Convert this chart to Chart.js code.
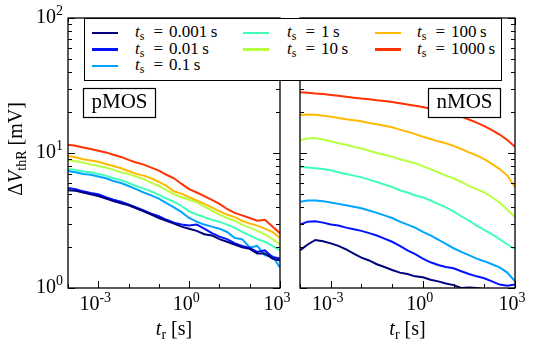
<!DOCTYPE html>
<html>
<head>
<meta charset="utf-8">
<script src="https://cdn.jsdelivr.net/npm/chart.js@4.4.1/dist/chart.umd.min.js"></script>
<style>
    body { margin: 0; background: #fff; }
    #wrap { position: relative; width: 537px; height: 353px; overflow: hidden; }
    canvas { position: absolute; top: 0; }
    #pmos { left: 0; }
    #nmos { left: 285px; }
    #legend {
        position: absolute; left: 84px; top: 18px; width: 418px; height: 63px;
        border: 1.3px solid #000; background: #fff; box-sizing: border-box;
    }
    .sw { position: absolute; width: 26px; height: 2.5px; }
    .lab {
        position: absolute; font-family: "Liberation Serif", "DejaVu Serif", serif;
        font-size: 17px; line-height: 17px; white-space: nowrap; color: #000;
    }
    .lab i { font-style: italic; }
    .lab sub { font-size: 12px; vertical-align: -3px; line-height: 0; }
    .lab .eq { margin: 0 6px 0 9px; }
</style>
</head>
<body>
<div id="wrap">
    <canvas id="pmos" width="295" height="353"></canvas>
    <canvas id="nmos" width="252" height="353"></canvas>
    <div id="legend"></div>
</div>
<script>
// recovery time t_r [s], one point every quarter decade
const tr = [1e-4, 1.78e-4, 3.16e-4, 5.62e-4, 1e-3, 1.78e-3, 3.16e-3, 5.62e-3, 1e-2, 1.78e-2, 3.16e-2, 5.62e-2,
    0.1, 0.178, 0.316, 0.562, 1, 1.78, 3.16, 5.62, 10, 17.8, 31.6, 56.2, 100, 178, 316, 562, 1000];

// stress times t_s [s]
const stressTimes = ["0.001", "0.01", "0.1", "1", "10", "100", "1000"];
const stressColors = ["#000080", "#0012ff", "#00a4ff", "#41ffb6", "#b6ff41", "#ffb900", "#ff3200"];

// pMOS, dVthR [mV]
const p0001 = [5.3, 5.25, 5.1, 4.95, 4.8, 4.6, 4.4, 4.25, 4.1, 3.9, 3.7, 3.5, 3.3, 3.15, 3.0, 2.85, 2.75, 2.65, 2.5, 2.45, 2.3, 2.2, 2.1, 2.0, 1.95, 1.8, 1.8, 1.65, 1.6];
const p001 = [5.5, 5.4, 5.2, 5.05, 4.95, 4.7, 4.5, 4.35, 4.15, 3.95, 3.75, 3.55, 3.4, 3.2, 3.05, 2.95, 2.9, 2.95, 2.75, 2.55, 2.4, 2.3, 2.15, 2.05, 1.98, 1.85, 1.9, 1.7, 1.65];
const p01 = [7.35, 7.2, 7.0, 6.9, 6.7, 6.5, 6.2, 6.0, 5.7, 5.4, 5.1, 4.85, 4.6, 4.25, 3.95, 3.65, 3.3, 3.1, 2.95, 2.85, 2.75, 2.6, 2.35, 2.3, 2.0, 2.05, 1.75, 1.72, 1.42];
const p1 = [7.6, 7.5, 7.3, 7.2, 7.0, 6.8, 6.5, 6.3, 6.0, 5.7, 5.45, 5.2, 4.9, 4.6, 4.35, 4.05, 3.7, 3.5, 3.35, 3.2, 3.1, 2.95, 2.8, 2.6, 2.45, 2.3, 2.2, 2.05, 1.9];
const p10 = [8.9, 8.7, 8.5, 8.2, 8.0, 7.8, 7.5, 7.2, 7.0, 6.7, 6.4, 6.0, 5.7, 5.3, 4.95, 4.7, 4.5, 4.3, 4.0, 3.75, 3.5, 3.3, 3.15, 2.95, 2.8, 2.65, 2.5, 2.3, 2.1];
const p100 = [9.5, 9.3, 9.0, 8.8, 8.6, 8.3, 8.0, 7.7, 7.35, 7.0, 6.8, 6.5, 6.1, 5.7, 5.2, 5.0, 4.7, 4.45, 4.2, 3.95, 3.7, 3.5, 3.35, 3.15, 3.0, 2.9, 2.75, 2.6, 2.35];
const p1000 = [11.5, 11.3, 11.0, 10.7, 10.4, 10.1, 9.7, 9.35, 8.9, 8.5, 8.2, 7.8, 7.4, 6.9, 6.5, 5.9, 5.4, 5.1, 4.8, 4.5, 4.2, 3.85, 3.6, 3.45, 3.3, 3.15, 3.2, 2.85, 2.55];

// nMOS, dVthR [mV]
const n0001 = [1.9, 2.1, 2.27, 2.22, 2.14, 2.05, 1.93, 1.8, 1.68, 1.6, 1.5, 1.43, 1.36, 1.3, 1.27, 1.22, 1.2, 1.15, 1.12, 1.08, 1.05, 1.0, 1.01, 1.0, 0.98, 0.95, 0.94, 0.93, 0.92];
const n001 = [2.95, 3.1, 3.12, 3.05, 2.95, 2.9, 2.8, 2.72, 2.65, 2.55, 2.45, 2.32, 2.2, 2.05, 1.9, 1.78, 1.65, 1.55, 1.48, 1.43, 1.4, 1.33, 1.27, 1.22, 1.18, 1.12, 1.06, 1.04, 1.06];
const n01 = [4.35, 4.45, 4.45, 4.4, 4.3, 4.2, 4.1, 4.0, 3.9, 3.75, 3.6, 3.45, 3.3, 3.1, 2.95, 2.8, 2.6, 2.45, 2.28, 2.12, 1.97, 1.85, 1.75, 1.65, 1.58, 1.5, 1.42, 1.3, 1.12];
const n1 = [7.9, 7.8, 7.7, 7.6, 7.45, 7.2, 7.0, 6.8, 6.6, 6.35, 6.1, 5.85, 5.6, 5.3, 5.1, 4.85, 4.7, 4.45, 4.2, 3.95, 3.7, 3.4, 3.15, 2.9, 2.7, 2.5, 2.3, 2.1, 1.95];
const n10 = [12.5, 12.8, 12.9, 12.6, 12.2, 11.8, 11.5, 11.1, 10.8, 10.4, 10.0, 9.7, 9.4, 9.0, 8.7, 8.4, 8.0, 7.6, 7.2, 6.8, 6.5, 6.1, 5.7, 5.4, 5.1, 4.7, 4.3, 3.8, 3.35];
const n100 = [19.1, 19.3, 19.2, 18.9, 18.6, 18.2, 17.8, 17.5, 17.2, 16.7, 16.3, 15.9, 15.5, 14.9, 14.4, 13.8, 13.2, 12.7, 12.2, 11.8, 11.3, 10.7, 10.1, 9.6, 9.0, 8.3, 7.6, 6.8, 5.6];
const n1000 = [28.2, 28.0, 27.6, 27.3, 26.9, 26.5, 26.1, 25.7, 25.3, 25.0, 24.6, 24.3, 23.9, 23.4, 22.9, 22.4, 21.9, 21.3, 20.7, 20.1, 19.4, 18.6, 17.7, 16.8, 15.8, 14.8, 13.7, 12.5, 11.1];

const pmosSeries = [p0001, p001, p01, p1, p10, p100, p1000];
const nmosSeries = [n0001, n001, n01, n1, n10, n100, n1000];

// axis ticks
const xDecades = [1e-4, 1e-3, 1e-2, 1e-1, 1, 10, 100, 1000];
const xLabelTicks = [1e-3, 1, 1e3];
const yLabelTicks = [1, 10, 100];
const yMinorTicks = [2, 3, 4, 5, 6, 7, 8, 9, 20, 30, 40, 50, 60, 70, 80, 90];

const SERIF = "'Liberation Serif', serif";

/* Draws "10" with a raised exponent, anchored at x (center or right). */
function drawPower(ctx, value, x, y, align) {
    const exp = String(Math.round(Math.log10(value)));
    ctx.font = "20px " + SERIF;
    const w1 = ctx.measureText("10").width;
    ctx.font = "14px " + SERIF;
    const w2 = ctx.measureText(exp).width;
    const start = align === "right" ? x - w1 - w2 : x - (w1 + w2) / 2;
    ctx.textAlign = "left";
    ctx.textBaseline = "alphabetic";
    ctx.font = "20px " + SERIF;
    ctx.fillText("10", start, y);
    ctx.font = "14px " + SERIF;
    ctx.fillText(exp, start + w1, y - 8);
}

/* Draws a row of text pieces with their own fonts, centred on x. */
function drawRich(ctx, parts, x, y) {
    let total = 0;
    parts.forEach((p) => {
        ctx.font = p.font;
        p.w = ctx.measureText(p.text).width;
        total += p.w;
    });
    let cur = x - total / 2;
    ctx.textAlign = "left";
    ctx.textBaseline = "alphabetic";
    parts.forEach((p) => {
        ctx.font = p.font;
        ctx.fillText(p.text, cur, y + (p.dy || 0));
        cur += p.w;
    });
}

const framePlugin = {
    id: "frame",
    afterDraw(chart, args, opts) {
        const { ctx, chartArea: a, scales } = chart;
        const xs = scales.x;
        const ys = scales.y;
        ctx.save();
        ctx.strokeStyle = "#000";
        ctx.fillStyle = "#000";

        // inward ticks on all four sides
        ctx.lineWidth = 1;
        ctx.beginPath();
        xDecades.forEach((v) => {
            const px = Math.round(xs.getPixelForValue(v)) + 0.5;
            const len = xLabelTicks.includes(v) ? 7 : 4;
            ctx.moveTo(px, a.bottom); ctx.lineTo(px, a.bottom - len);
            ctx.moveTo(px, a.top); ctx.lineTo(px, a.top + len);
        });
        yLabelTicks.concat(yMinorTicks).forEach((v) => {
            const py = Math.round(ys.getPixelForValue(v)) + 0.5;
            const len = yLabelTicks.includes(v) ? 7 : 4;
            ctx.moveTo(a.left, py); ctx.lineTo(a.left + len, py);
            ctx.moveTo(a.right, py); ctx.lineTo(a.right - len, py);
        });
        ctx.stroke();

        ctx.lineWidth = 1.3;
        ctx.strokeRect(a.left, a.top, a.right - a.left, a.bottom - a.top);

        // tick labels
        xLabelTicks.forEach((v) => drawPower(ctx, v, xs.getPixelForValue(v) - 3, a.bottom + 22, "center"));
        if (opts.yLabels) {
            yLabelTicks.forEach((v) => drawPower(ctx, v, a.left - 5, ys.getPixelForValue(v) + 5, "right"));
        }

        // x title
        drawRich(ctx, [
            { text: "t", font: "italic 20px " + SERIF },
            { text: "r", font: "14px " + SERIF, dy: 4 },
            { text: " [s]", font: "20px " + SERIF },
        ], (a.left + a.right) / 2, a.bottom + 47);

        // y title
        if (opts.yLabels) {
            ctx.save();
            ctx.translate(22, (a.top + a.bottom) / 2 - 4);
            ctx.rotate(-Math.PI / 2);
            drawRich(ctx, [
                { text: "\u0394", font: "20px " + SERIF },
                { text: "V", font: "italic 20px " + SERIF },
                { text: "thR", font: "14px " + SERIF, dy: 4 },
                { text: " [mV]", font: "20px " + SERIF },
            ], 0, 0);
            ctx.restore();
        }

        // device tag box
        const bw = 72, bh = 29;
        const bx = opts.tagSide === "left" ? a.left + 15 : a.right - 15 - bw;
        const by = a.top + 70;
        ctx.fillStyle = "#fff";
        ctx.fillRect(bx, by, bw, bh);
        ctx.lineWidth = 1.2;
        ctx.strokeRect(bx + 0.5, by + 0.5, bw, bh);
        ctx.fillStyle = "#000";
        ctx.font = "21px " + SERIF;
        ctx.textAlign = "center";
        ctx.textBaseline = "alphabetic";
        ctx.fillText(opts.tag, bx + bw / 2 + 0.5, by + 20);
        ctx.restore();
    },
};

function buildDatasets(series) {
    return series.map((vals, i) => ({
        label: "t_s = " + stressTimes[i] + " s",
        data: vals.map((v, k) => ({ x: tr[k], y: v })),
        borderColor: stressColors[i],
        borderWidth: 2,
        pointRadius: 0,
        fill: false,
        tension: 0,
    }));
}

function makePanel(canvasId, series, padding, frameOpts) {
    const ctx = document.getElementById(canvasId).getContext("2d");
    return new Chart(ctx, {
        type: "line",
        data: { datasets: buildDatasets(series) },
        options: {
            responsive: false,
            animation: false,
            events: [],
            layout: { padding: padding },
            scales: {
                x: { type: "logarithmic", min: 1e-4, max: 1e3, display: false },
                y: { type: "logarithmic", min: 1, max: 100, display: false },
            },
            plugins: {
                legend: { display: false },
                tooltip: { enabled: false },
                frame: frameOpts,
            },
        },
        plugins: [framePlugin],
    });
}

/* Legend spanning both panels, three columns. */
function buildLegend() {
    const box = document.getElementById("legend");
    const cols = [[0, 1, 2], [3, 4], [5, 6]];
    const lineX = [7, 158, 290];
    const textX = [50, 202, 332];
    cols.forEach((col, c) => {
        col.forEach((idx, r) => {
            const rowY = 14 + r * 16.5;
            const sw = document.createElement("div");
            sw.className = "sw";
            sw.style.left = lineX[c] + "px";
            sw.style.top = rowY - 1.2 + "px";
            sw.style.background = stressColors[idx];
            box.appendChild(sw);

            const lab = document.createElement("div");
            lab.className = "lab";
            lab.style.left = textX[c] + "px";
            lab.style.top = rowY - 10 + "px";
            lab.innerHTML = "<i>t</i><sub>s</sub><span class=\"eq\">=</span>" + stressTimes[idx] + "&thinsp;s";
            box.appendChild(lab);
        });
    });
}

document.addEventListener("DOMContentLoaded", function () {
    makePanel("pmos", pmosSeries, { left: 68, right: 15, top: 18, bottom: 65 }, { yLabels: true, tag: "pMOS", tagSide: "left" });
    makePanel("nmos", nmosSeries, { left: 15, right: 22, top: 18, bottom: 65 }, { yLabels: false, tag: "nMOS", tagSide: "right" });
    buildLegend();
});
</script>
</body>
</html>
